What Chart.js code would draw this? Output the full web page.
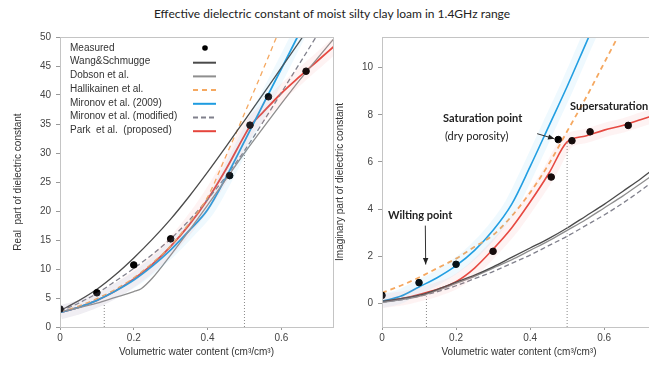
<!DOCTYPE html>
<html>
<head>
<meta charset="utf-8">
<script src="https://cdn.jsdelivr.net/npm/chart.js"></script>
<style>
  html, body { margin: 0; padding: 0; background: #fff; overflow: hidden; width: 649px; height: 365px; }
  #title { position: absolute; left: 0; top: 6px; width: 664px; text-align: center;
           font: 12px Lato, sans-serif; color: #222; }
  #realChart { position: absolute; left: 0; top: 0; }
  #imagChart { position: absolute; left: 330px; top: 0; }
</style>
</head>
<body>
<div id="title">Effective dielectric constant of moist silty clay loam in 1.4GHz range</div>
<canvas id="realChart" width="340" height="365"></canvas>
<canvas id="imagChart" width="370" height="365"></canvas>
<script>
// ---- data ----
const xTicks = [0, 0.2, 0.4, 0.6];
const realTicks = [0, 5, 10, 15, 20, 25, 30, 35, 40, 45, 50];
const imagTicks = [0, 2, 4, 6, 8, 10];

const legendLabels = ['Measured', 'Wang&Schmugge', 'Dobson et al.', 'Hallikainen et al.',
    'Mironov et al. (2009)', 'Mironov et al. (modified)', 'Park  et al.  (proposed)'];

// real part
const realMeasX = [0, 0.1, 0.2, 0.3, 0.46, 0.515, 0.565, 0.667];
const realMeas = [3.1, 5.9, 10.7, 15.2, 26.1, 34.8, 39.7, 44.1];

const modelX = [0, 0.05, 0.1, 0.15, 0.2, 0.25, 0.3, 0.35, 0.4, 0.45, 0.5, 0.55, 0.6, 0.65, 0.7, 0.75];
const realWang = [2.8, 4.5, 6.5, 9.0, 11.9, 15.1, 18.6, 22.5, 26.7, 31.1, 35.6, 40.1, 44.7, 49.3, 54, 58.6];
const realDobsonX = [0, 0.05, 0.1, 0.15, 0.2, 0.22, 0.25, 0.3, 0.35, 0.4, 0.45, 0.5, 0.55, 0.6, 0.65, 0.7, 0.75];
const realDobson = [2.6, 3.3, 4.1, 5.1, 6.1, 6.6, 8.4, 12.4, 16.6, 21, 25.5, 30, 34.3, 38.5, 42.6, 46.5, 50.3];
const realHalli = [2.6, 3.6, 4.9, 6.5, 8.5, 11, 14, 17.9, 22.4, 29.5, 36.8, 44.3, 52, 59.5, 67, 74.5];
const realMir09 = [2.5, 3.4, 4.6, 6.2, 8.1, 10.5, 13.3, 16.6, 20.2, 25.8, 32, 38.3, 44.5, 50.8, 57, 63.2];
const realMirMod = [2.7, 4.1, 5.8, 7.9, 10.1, 12.5, 15.2, 18.4, 22, 26, 30.4, 35.3, 40.4, 45.5, 50.6, 55.7];
const realParkX = [0, 0.05, 0.1, 0.15, 0.2, 0.25, 0.3, 0.35, 0.4, 0.45, 0.5, 0.515, 0.55, 0.6, 0.65, 0.7, 0.75];
const realPark = [2.5, 3.4, 4.6, 6.2, 8.3, 10.8, 13.9, 17.6, 22, 27.2, 33, 34.6, 37, 40.3, 43.2, 46, 48.8];

// imaginary part
const imagMeasX = [0, 0.1, 0.2, 0.3, 0.457, 0.476, 0.513, 0.562, 0.665];
const imagMeas = [0.34, 0.88, 1.66, 2.21, 5.36, 6.95, 6.9, 7.28, 7.55];

const imagWang = [0.1, 0.2, 0.35, 0.6, 0.9, 1.2, 1.55, 1.95, 2.35, 2.75, 3.2, 3.7, 4.2, 4.75, 5.3, 5.9];
const imagDobson = [0.05, 0.15, 0.3, 0.55, 0.85, 1.15, 1.5, 1.85, 2.25, 2.65, 3.1, 3.55, 4.05, 4.55, 5.1, 5.65];
const imagHalliX = [0, 0.05, 0.1, 0.15, 0.2, 0.25, 0.3, 0.35, 0.4, 0.45, 0.5, 0.55, 0.6, 0.65];
const imagHalli = [0.45, 0.75, 1.1, 1.5, 1.9, 2.4, 2.9, 3.7, 4.7, 5.9, 7.3, 8.7, 10.2, 11.7];
const imagMir09X = [0, 0.05, 0.1, 0.15, 0.2, 0.25, 0.3, 0.35, 0.4, 0.45, 0.5, 0.55, 0.6];
const imagMir09 = [0.1, 0.3, 0.7, 1.1, 1.6, 2.25, 3.1, 4.2, 5.8, 7.5, 9.2, 11, 12.8];
const imagMirMod = [0.05, 0.15, 0.3, 0.5, 0.75, 1.05, 1.35, 1.7, 2.05, 2.45, 2.85, 3.3, 3.75, 4.25, 4.8, 5.4];
const imagParkX = [0, 0.05, 0.1, 0.15, 0.2, 0.25, 0.3, 0.35, 0.4, 0.45, 0.5, 0.55, 0.6, 0.65, 0.7, 0.75];
const imagPark = [0.1, 0.2, 0.38, 0.6, 0.92, 1.5, 2.3, 3.2, 4.3, 5.5, 6.85, 7.1, 7.35, 7.55, 7.8, 8.05];

// dotted guide lines [x, yFrom, yTo]
const realGuides = [[0.5, 0, 30], [0.12, 0, 4]];
const imagGuides = [[0.12, -1, 0.3], [0.5, -1, 6.85]];

// ---- helpers ----
const pts = (xs, ys) => xs.map((x, i) => ({ x: x, y: ys[i] }));

const COLORS = {
    wang: '#4a4a4a',
    dobson: '#8e8e8e',
    halli: '#f5a860',
    mir09: '#1e9ce0',
    mirMod: '#80808c',
    park: '#e5453c'
};

function lineSet(label, data, color, opts) {
    return Object.assign({
        label: label,
        data: data,
        borderColor: color,
        backgroundColor: color,
        borderWidth: 1.3,
        pointRadius: 0,
        fill: false,
        cubicInterpolationMode: 'monotone'
    }, opts || {});
}

function guideSets(guides) {
    return guides.map(g => ({
        data: [{ x: g[0], y: g[1] }, { x: g[0], y: g[2] }],
        borderColor: '#888',
        borderWidth: 1,
        borderDash: [1, 2],
        pointRadius: 0,
        noLegend: true
    }));
}

function bandSet(data, color) {
    return {
        data: data,
        borderColor: color,
        borderWidth: 14,
        pointRadius: 0,
        cubicInterpolationMode: 'monotone',
        noLegend: true
    };
}

function buildSets(measX, meas, sets, guides, bands) {
    const measured = {
        label: legendLabels[0],
        data: pts(measX, meas),
        showLine: false,
        pointRadius: 3.3,
        pointBackgroundColor: '#000',
        pointBorderColor: '#000',
        borderColor: '#000',
        backgroundColor: '#000',
        order: 0
    };
    return [...bands, ...guideSets(guides), measured, ...sets];
}

// frame around plot area
const framePlugin = {
    id: 'frame',
    afterDraw(chart) {
        const a = chart.chartArea, ctx = chart.ctx;
        ctx.save();
        ctx.strokeStyle = '#c4c4c4';
        ctx.lineWidth = 1;
        ctx.strokeRect(a.left + 0.5, a.top + 0.5, a.right - a.left, a.bottom - a.top);
        ctx.restore();
    }
};

// legend: text on the left, sample on the right
const legendPlugin = {
    id: 'sideLegend',
    afterDatasetsDraw(chart, args, opts) {
        if (!opts.show) return;
        const ctx = chart.ctx;
        ctx.save();
        ctx.font = '10px "Liberation Sans", Arial, sans-serif';
        ctx.fillStyle = '#333';
        ctx.textBaseline = 'middle';
        const rows = chart.data.datasets.filter(d => !d.noLegend);
        rows.forEach((d, i) => {
            const y = 48 + i * 13.7;
            ctx.fillText(d.label, 70, y);
            if (d.showLine === false) {
                ctx.beginPath();
                ctx.arc(205, y, 2.8, 0, Math.PI * 2);
                ctx.fillStyle = '#000';
                ctx.fill();
                ctx.fillStyle = '#333';
            } else {
                ctx.beginPath();
                ctx.setLineDash(d.borderDash || []);
                ctx.strokeStyle = d.borderColor;
                ctx.lineWidth = 2;
                ctx.moveTo(193, y + 1);
                ctx.lineTo(216, y + 1);
                ctx.stroke();
                ctx.setLineDash([]);
            }
        });
        ctx.restore();
    }
};

// text notes and arrows in data coordinates
const notesPlugin = {
    id: 'notes',
    afterDatasetsDraw(chart, args, opts) {
        if (!opts.items) return;
        const ctx = chart.ctx, xs = chart.scales.x, ys = chart.scales.y;
        ctx.save();
        opts.items.forEach(it => {
            if (it.text) {
                ctx.font = (it.bold ? 'bold ' : '') + '11px Lato, sans-serif';
                ctx.fillStyle = '#222';
                ctx.textBaseline = 'middle';
                ctx.fillText(it.text, xs.getPixelForValue(it.x), ys.getPixelForValue(it.y));
            } else if (it.arrow) {
                const [x0, y0, x1, y1] = it.arrow;
                const px0 = xs.getPixelForValue(x0), py0 = ys.getPixelForValue(y0);
                const px1 = xs.getPixelForValue(x1), py1 = ys.getPixelForValue(y1);
                const ang = Math.atan2(py1 - py0, px1 - px0);
                ctx.strokeStyle = '#333';
                ctx.fillStyle = '#222';
                ctx.lineWidth = 1;
                ctx.beginPath();
                ctx.moveTo(px0, py0);
                ctx.lineTo(px1, py1);
                ctx.stroke();
                ctx.beginPath();
                ctx.moveTo(px1, py1);
                ctx.lineTo(px1 - 7 * Math.cos(ang - 0.4), py1 - 7 * Math.sin(ang - 0.4));
                ctx.lineTo(px1 - 7 * Math.cos(ang + 0.4), py1 - 7 * Math.sin(ang + 0.4));
                ctx.closePath();
                ctx.fill();
            }
        });
        ctx.restore();
    }
};

function makeOptions(yMin, yMax, yTicks, yTitle, yWidth, yTitlePad, rightPad, legendShow, notes) {
    return {
        responsive: false,
        animation: false,
        layout: { padding: { top: 37, right: rightPad, left: 0, bottom: 0 } },
        plugins: {
            legend: { display: false },
            tooltip: { enabled: false },
            sideLegend: { show: legendShow },
            notes: { items: notes }
        },
        scales: {
            x: {
                type: 'linear', min: 0, max: 0.74,
                afterBuildTicks: s => { s.ticks = xTicks.map(v => ({ value: v })); },
                afterFit: s => { s.height = 38; },
                grid: { drawOnChartArea: false, tickLength: 3, color: '#999' },
                border: { display: false },
                ticks: { font: { size: 10, family: '"Liberation Sans", Arial' }, color: '#444', padding: 2,
                         maxRotation: 0, callback: v => String(v) },
                title: { display: true, text: 'Volumetric water content (cm\u00B3/cm\u00B3)',
                         font: { size: 10, family: '"Liberation Sans", Arial' }, color: '#333',
                         padding: { top: 0, bottom: 7 } }
            },
            y: {
                type: 'linear', min: yMin, max: yMax,
                afterBuildTicks: s => { s.ticks = yTicks.map(v => ({ value: v })); },
                afterFit: s => { s.width = yWidth; },
                grid: { drawOnChartArea: false, tickLength: 4, color: '#999' },
                border: { display: false },
                ticks: { font: { size: 10, family: '"Liberation Sans", Arial' }, color: '#444', padding: 5 },
                title: { display: true, text: yTitle,
                         font: { size: 10, family: '"Liberation Sans", Arial' }, color: '#333',
                         padding: { top: yTitlePad, bottom: 0 } }
            }
        }
    };
}

// ---- real part chart ----
const realSets = buildSets(realMeasX, realMeas, [
    lineSet(legendLabels[1], pts(modelX, realWang), COLORS.wang),
    lineSet(legendLabels[2], pts(realDobsonX, realDobson), COLORS.dobson),
    lineSet(legendLabels[3], pts(modelX, realHalli), COLORS.halli, { borderDash: [5, 4] }),
    lineSet(legendLabels[4], pts(modelX, realMir09), COLORS.mir09, { borderWidth: 1.8 }),
    lineSet(legendLabels[5], pts(modelX, realMirMod), COLORS.mirMod, { borderDash: [5, 3] }),
    lineSet(legendLabels[6], pts(realParkX, realPark), COLORS.park, { borderWidth: 1.8 })
], realGuides, [
    bandSet(pts(realParkX, realPark), 'rgba(240,120,120,0.09)'),
    bandSet(pts(modelX, realMir09), 'rgba(80,190,240,0.09)')
]);

new Chart(document.getElementById('realChart'), {
    type: 'line',
    data: { datasets: realSets },
    options: makeOptions(0, 50, realTicks, 'Real  part of dielectric constant', 60, 12, 7, true, null),
    plugins: [framePlugin, legendPlugin, notesPlugin]
});

// ---- imaginary part chart ----
const imagSets = buildSets(imagMeasX, imagMeas, [
    lineSet(legendLabels[1], pts(modelX, imagWang), COLORS.wang),
    lineSet(legendLabels[2], pts(modelX, imagDobson), COLORS.dobson),
    lineSet(legendLabels[3], pts(imagHalliX, imagHalli), COLORS.halli, { borderDash: [5, 4], borderWidth: 1.8 }),
    lineSet(legendLabels[4], pts(imagMir09X, imagMir09), COLORS.mir09, { borderWidth: 1.6 }),
    lineSet(legendLabels[5], pts(modelX, imagMirMod), COLORS.mirMod, { borderDash: [5, 3] }),
    lineSet(legendLabels[6], pts(imagParkX, imagPark), COLORS.park, { borderWidth: 1.6 })
], imagGuides, [
    bandSet(pts(imagParkX, imagPark), 'rgba(240,120,120,0.09)'),
    bandSet(pts(imagMir09X, imagMir09), 'rgba(80,190,240,0.09)')
]);

const imagNotes = [
    { text: 'Wilting point', x: 0.016, y: 3.75, bold: true },
    { arrow: [0.117, 3.3, 0.118, 1.65] },
    { text: 'Saturation point', x: 0.165, y: 7.85, bold: true },
    { text: '(dry porosity)', x: 0.17, y: 7.1 },
    { arrow: [0.419, 7.2, 0.466, 6.98] },
    { text: 'Supersaturation', x: 0.508, y: 8.35, bold: true }
];

new Chart(document.getElementById('imagChart'), {
    type: 'line',
    data: { datasets: imagSets },
    options: makeOptions(-1, 11.3, imagTicks, 'Imaginary part of dielectric constant', 52, 4, 44, false, imagNotes),
    plugins: [framePlugin, legendPlugin, notesPlugin]
});
</script>
</body>
</html>
